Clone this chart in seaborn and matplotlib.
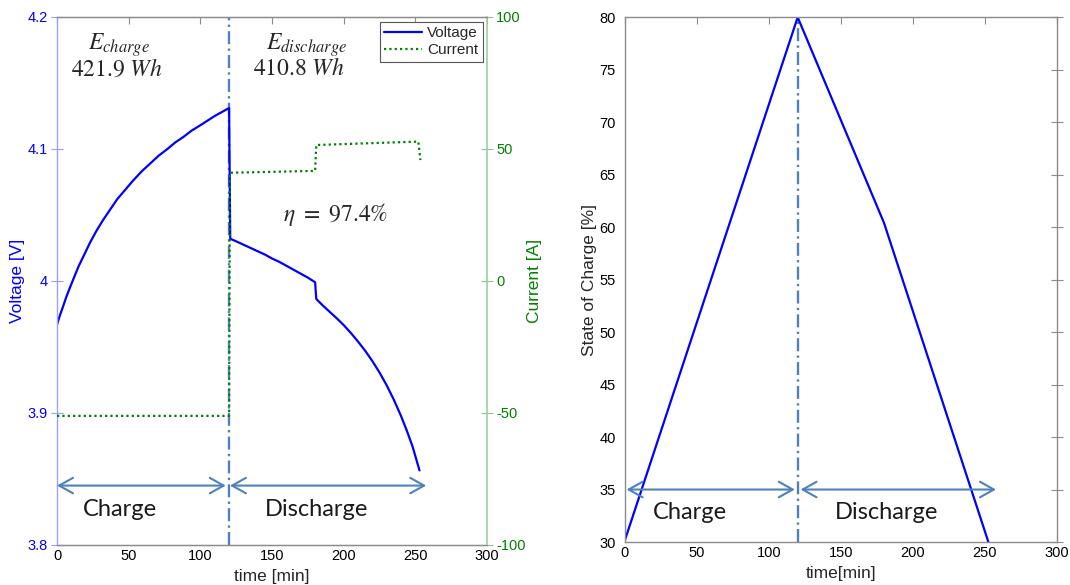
import numpy as np
import pandas as pd
import matplotlib
matplotlib.use("Agg")
import matplotlib.pyplot as plt
import seaborn as sns

# ---- measured battery cycle ----
# cell voltage [V] over time [min]
volt_time = [0, 2, 4, 6.5, 9, 12, 15, 19, 23, 27.5, 32, 37, 42, 47.5, 53, 59,
             65, 71, 77, 82.5, 88, 94, 100, 105, 110, 115, 120.0,
             120.8, 125, 130, 135, 140, 145, 150, 155, 160, 165, 170, 175,
             180.0, 180.8, 185, 190, 195, 200, 205, 210, 215, 220, 225, 230,
             235, 240, 244, 248, 252.8]
voltage = [3.967, 3.974, 3.980, 3.988, 3.995, 4.003, 4.011, 4.020, 4.029,
           4.038, 4.046, 4.054, 4.062, 4.069, 4.076, 4.083, 4.089, 4.095,
           4.100, 4.105, 4.109, 4.114, 4.118, 4.1215, 4.125, 4.128, 4.131,
           4.032, 4.030, 4.0275, 4.025, 4.0225, 4.020, 4.017, 4.0145, 4.0115,
           4.0085, 4.0055, 4.0025,
           3.999, 3.9864, 3.9818, 3.9768, 3.9718, 3.9665, 3.9605, 3.954,
           3.947, 3.9392, 3.9305, 3.9208, 3.9098, 3.8975, 3.8865, 3.8745,
           3.8565]

# cell current [A] over time [min]
curr_time = [0, 120.0, 120.6, 180.0, 180.8, 252.0, 253.4]
current = [-51.1, -51.1, 41.0, 41.7, 51.5, 52.8, 45.8]

# state of charge [%] over time [min]
soc_time = [0, 120, 180, 252.5]
soc = [30.2, 80.0, 60.4, 30.0]

# phase boundary and summary figures
switch_time = 120
energy_charge = 421.9
energy_discharge = 410.8
efficiency = 97.4

x_ticks = [0, 50, 100, 150, 200, 250, 300]
volt_ticks = [3.8, 3.9, 4.0, 4.1, 4.2]
volt_tick_labels = ["3.8", "3.9", "4", "4.1", "4.2"]
curr_ticks = [-100, -50, 0, 50, 100]
soc_ticks = [30, 35, 40, 45, 50, 55, 60, 65, 70, 75, 80]

sns.set_style("white")
plt.rcParams["font.family"] = ["Liberation Sans", "DejaVu Sans"]
plt.rcParams["mathtext.fontset"] = "stix"
plt.rcParams["axes.unicode_minus"] = False

BLUE = "#0000ff"
GREEN = "#008000"
MARK = "#4f81bd"
GRAY = "#8c8c8c"
TICK_FS = 10.5
LABEL_FS = 12.5
NOTE_FONT = ["Lato", "DejaVu Sans"]

fig = plt.figure(figsize=(10.7, 5.85), dpi=100)
ax1 = fig.add_axes([0.0533, 0.0684, 0.402, 0.9026])
ax2 = ax1.twinx()
ax3 = fig.add_axes([0.5841, 0.0735, 0.4035, 0.8970])

df_v = pd.DataFrame({"time": volt_time, "voltage": voltage})
df_i = pd.DataFrame({"time": curr_time, "current": current})
df_s = pd.DataFrame({"time": soc_time, "soc": soc})

# ---- left panel: voltage and current ----
sns.lineplot(data=df_v, x="time", y="voltage", ax=ax1, color=BLUE, lw=1.6,
             estimator=None, sort=False, label="Voltage", legend=False)
sns.lineplot(data=df_i, x="time", y="current", ax=ax2, color=GREEN, lw=1.6,
             estimator=None, sort=False, label="Current", legend=False)
ax2.lines[-1].set_linestyle((0, (1, 1.4)))

dashdot = (0, (5.5, 1.8, 1, 1.8))
ax1.axvline(switch_time, color=MARK, lw=1.7, ls=dashdot, zorder=1)

ax1.set_xlim(0, 300)
ax1.set_ylim(3.8, 4.2)
ax2.set_ylim(-100, 100)
ax1.set_xticks(x_ticks)
ax1.set_yticks(volt_ticks)
ax1.set_yticklabels(volt_tick_labels)
ax2.set_yticks(curr_ticks)

ax1.set_xlabel("time [min]", fontsize=LABEL_FS, labelpad=4)
ax1.set_ylabel("Voltage [V]", fontsize=LABEL_FS, color=BLUE, labelpad=2)
ax2.set_ylabel("Current [A]", fontsize=LABEL_FS, color=GREEN, labelpad=1)

ax1.tick_params(axis="x", direction="in", length=5, top=True, color=GRAY,
                labelsize=TICK_FS, labelcolor="black", pad=3)
ax1.tick_params(axis="y", direction="inout", length=9, color="#9a9aff",
                labelsize=TICK_FS, labelcolor=BLUE, pad=2)
ax2.tick_params(axis="y", direction="inout", length=9, color="#8fc08f",
                labelsize=TICK_FS, labelcolor=GREEN, pad=2)

for a in (ax1, ax2):
    a.spines["top"].set_color(GRAY)
    a.spines["bottom"].set_color(GRAY)
ax1.spines["left"].set_color("#a0a0ff")
ax1.spines["right"].set_visible(False)
ax2.spines["left"].set_visible(False)
ax2.spines["right"].set_color("#9ccf9c")
for s in ax1.spines.values():
    s.set_linewidth(1.0)
ax2.spines["right"].set_linewidth(1.2)

# phase arrows and labels
arrow_kw = dict(arrowstyle="<->,head_length=0.5,head_width=0.28",
                color=MARK, lw=1.5, mutation_scale=20, shrinkA=0, shrinkB=0)
ax1.annotate("", xy=(0, 3.845), xytext=(117.7, 3.845), arrowprops=arrow_kw)
ax1.annotate("", xy=(120.6, 3.845), xytext=(257.5, 3.845), arrowprops=arrow_kw)
ax1.text(44, 3.827, "Charge", fontsize=17, family=NOTE_FONT,
         ha="center", va="center", color="#1a1a1a")
ax1.text(181, 3.827, "Discharge", fontsize=17, family=NOTE_FONT,
         ha="center", va="center", color="#1a1a1a")

# energy and efficiency annotations
ax1.text(43.3, 4.1788, r"$E_{charge}$", fontsize=17, ha="center", va="center")
ax1.text(42, 4.1606, rf"${energy_charge}\ Wh$", fontsize=17, ha="center", va="center")
ax1.text(173.8, 4.1788, r"$E_{discharge}$", fontsize=17, ha="center", va="center")
ax1.text(168.7, 4.1606, rf"${energy_discharge}\ Wh$", fontsize=17, ha="center", va="center")
ax1.text(194, 4.05, rf"$\eta\ =\ {efficiency}\%$", fontsize=17, ha="center", va="center")

handles = ax1.lines[:1] + ax2.lines[:1]
leg = ax2.legend(handles, ["Voltage", "Current"], loc="upper right",
                 fontsize=11, frameon=True, fancybox=False, framealpha=1,
                 edgecolor="#555555", borderaxespad=0.3, handlelength=2.5,
                 handletextpad=0.3, borderpad=0.3, labelspacing=0.2)
leg.get_frame().set_linewidth(0.8)

# ---- right panel: state of charge ----
sns.lineplot(data=df_s, x="time", y="soc", ax=ax3, color=BLUE, lw=1.6,
             estimator=None, sort=False, legend=False)
ax3.axvline(switch_time, color=MARK, lw=1.7, ls=dashdot, zorder=1)
ax3.set_xlim(0, 300)
ax3.set_ylim(30, 80)
ax3.set_xticks(x_ticks)
ax3.set_yticks(soc_ticks)
ax3.set_xlabel("time[min]", fontsize=LABEL_FS, labelpad=4)
ax3.set_ylabel("State of Charge [%]", fontsize=LABEL_FS, labelpad=2)
ax3.tick_params(axis="x", direction="in", length=5, top=True, color=GRAY,
                labelsize=TICK_FS, labelcolor="black", pad=3)
ax3.tick_params(axis="y", direction="inout", length=9, right=True, color=GRAY,
                labelsize=TICK_FS, labelcolor="black", pad=2)
for s in ax3.spines.values():
    s.set_color(GRAY)
    s.set_linewidth(1.0)

ax3.annotate("", xy=(1.1, 35), xytext=(118, 35), arrowprops=arrow_kw)
ax3.annotate("", xy=(122, 35), xytext=(257.8, 35), arrowprops=arrow_kw)
ax3.text(44.8, 32.85, "Charge", fontsize=17, family=NOTE_FONT,
         ha="center", va="center", color="#1a1a1a")
ax3.text(182, 32.85, "Discharge", fontsize=17, family=NOTE_FONT,
         ha="center", va="center", color="#1a1a1a")

fig.savefig("out.png", dpi=100)
